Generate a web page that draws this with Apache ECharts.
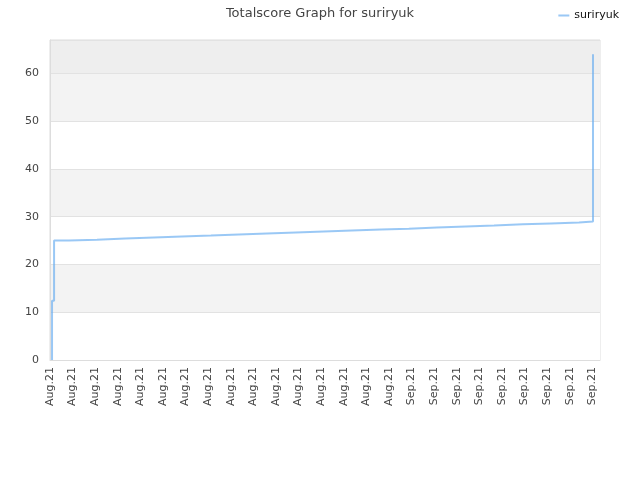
<!DOCTYPE html>
<html>
<head>
<meta charset="utf-8">
<script src="https://cdn.jsdelivr.net/npm/echarts@6/dist/echarts.min.js"></script>
<style>html,body{margin:0;padding:0;background:#fff;}#c{width:640px;height:480px;}</style>
</head>
<body>
<div id="c"></div>
<script>
// x positions in "tick units" (one x-axis label step = 1)
const tickLabels = [
  'Aug.21','Aug.21','Aug.21','Aug.21','Aug.21','Aug.21','Aug.21','Aug.21',
  'Aug.21','Aug.21','Aug.21','Aug.21','Aug.21','Aug.21','Aug.21','Aug.21',
  'Sep.21','Sep.21','Sep.21','Sep.21','Sep.21','Sep.21','Sep.21','Sep.21','Sep.21'
];
const times = [0.09, 0.09, 0.09, 0.09, 0.09, 0.18, 0.18, 0.84, 2.08, 3.32, 4.60, 5.84, 7.12, 8.36, 9.60,
  10.88, 12.12, 13.36, 14.65, 15.88, 17.12, 18.41, 19.65, 20.93, 22.17, 23.41,
  24.03, 24.03, 24.03, 24.03];
const scores = [0, 1, 4, 9, 12.4, 16, 25.0, 25.2, 25.45, 25.66, 25.87, 26.08, 26.3, 26.5, 26.7,
  26.9, 27.1, 27.3, 27.5, 27.75, 27.96, 28.17, 28.4, 28.6, 28.8, 29.0,
  33.9, 44.8, 50.9, 64.0];
const seriesName = 'suriryuk';

const data = times.map((t, i) => [t, scores[i]]);
const chart = echarts.init(document.getElementById('c'), null, {renderer: 'canvas'});
chart.setOption({
  animation: false,
  backgroundColor: '#fff',
  title: {
    text: 'Totalscore Graph for suriryuk',
    left: 'center', top: 2,
    textStyle: {fontFamily: 'DejaVu Sans', fontSize: 13, fontWeight: 'normal', color: '#444'}
  },
  legend: {
    right: 16, top: 5,
    icon: 'rect', itemWidth: 11, itemHeight: 2, itemGap: 6,
    textStyle: {fontFamily: 'DejaVu Sans', fontSize: 11, color: '#111'},
    data: [seriesName]
  },
  grid: {left: 50, right: 40, top: 40, bottom: 120, show: true, borderColor: '#dddddd', borderWidth: 1, containLabel: false},
  xAxis: {
    type: 'value', min: 0, max: 24.34, interval: 1,
    axisLine: {show: true, lineStyle: {color: '#dddddd'}},
    axisTick: {show: false},
    splitLine: {show: false},
    axisLabel: {
      rotate: 90, fontFamily: 'DejaVu Sans', fontSize: 11, color: '#444', margin: 7,
      showMaxLabel: false,
      formatter: v => tickLabels[Math.round(v)] || ''
    }
  },
  yAxis: {
    type: 'value', min: 0, max: 67, interval: 10,
    axisLine: {show: true, lineStyle: {color: '#dddddd'}},
    axisTick: {show: false},
    axisLabel: {fontFamily: 'DejaVu Sans', fontSize: 11, color: '#444', margin: 11, showMaxLabel: false},
    splitLine: {show: true, lineStyle: {color: '#e2e2e2'}},
    splitArea: {show: true, areaStyle: {color: ['#ffffff', '#f3f3f3', '#ffffff', '#f3f3f3', '#ffffff', '#f3f3f3', '#eeeeee']}}
  },
  series: [{
    name: seriesName, type: 'line', step: 'end',
    data: data, showSymbol: false, symbol: 'none',
    lineStyle: {color: 'rgba(100,170,240,0.65)', width: 2},
    itemStyle: {color: 'rgba(100,170,240,0.65)'}
  }]
});
</script>
</body>
</html>
